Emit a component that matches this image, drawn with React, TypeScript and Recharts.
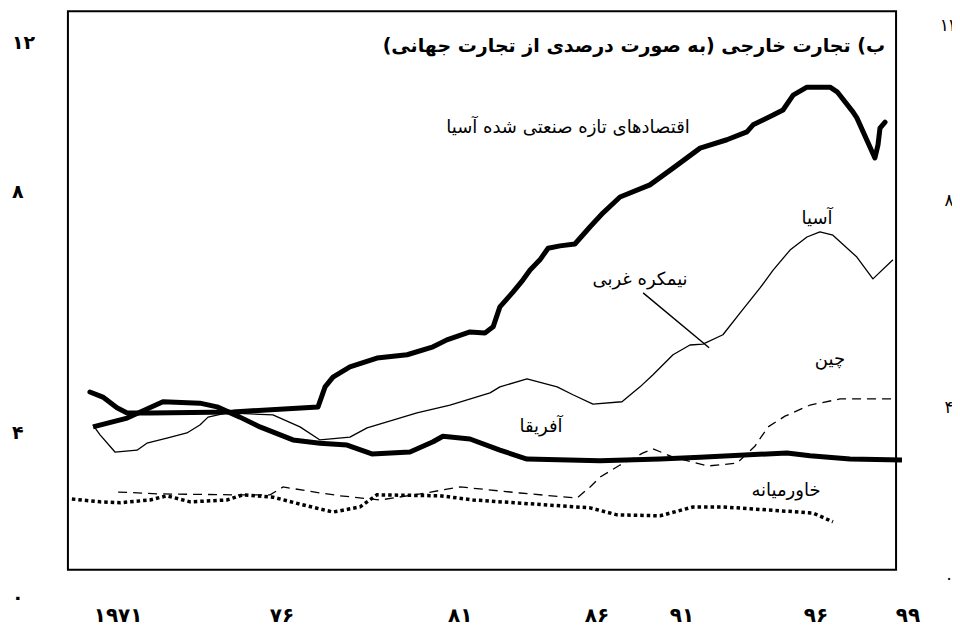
import {
  LineChart,
  Line,
  XAxis,
  YAxis,
  ReferenceArea,
  ReferenceLine,
} from "recharts";

// [year, share of world trade %]
const asianNIEs: [number, number][] = [
  [1969.99, 3.82], [1970.45, 3.71], [1970.95, 3.48], [1971.31, 3.37], [1972.12, 3.37],
  [1975.06, 3.39], [1978.08, 3.5], [1978.33, 3.93], [1978.61, 4.14], [1979.21, 4.36],
  [1980.17, 4.55], [1981.24, 4.62], [1982.16, 4.79], [1982.65, 4.94], [1983.47, 5.11],
  [1984.0, 5.09], [1984.29, 5.22], [1984.53, 5.65], [1985.0, 5.97], [1985.35, 6.23],
  [1985.6, 6.44], [1985.95, 6.66], [1986.24, 6.91], [1986.66, 6.96], [1987.19, 7.0],
  [1987.73, 7.37], [1988.19, 7.67], [1988.79, 8.01], [1989.85, 8.27], [1990.67, 8.63],
  [1991.63, 9.06], [1992.58, 9.24], [1993.29, 9.41], [1993.51, 9.56], [1994.22, 9.77],
  [1994.57, 9.88], [1994.93, 10.2], [1995.42, 10.37], [1996.24, 10.37], [1996.49, 10.27],
  [1997.05, 9.84], [1997.19, 9.71], [1997.83, 8.85], [1997.94, 9.13], [1998.01, 9.49],
  [1998.19, 9.62],
];

const africa: [number, number][] = [
  [1970.1, 3.07], [1971.31, 3.26], [1972.58, 3.61], [1973.89, 3.58], [1974.5, 3.5],
  [1975.31, 3.28], [1976.02, 3.07], [1977.19, 2.79], [1978.15, 2.72], [1979.11, 2.68],
  [1979.99, 2.49], [1981.34, 2.53], [1982.16, 2.75], [1982.51, 2.87], [1983.47, 2.81],
  [1984.53, 2.57], [1985.49, 2.38], [1988.08, 2.34], [1990.21, 2.38], [1991.63, 2.42],
  [1994.71, 2.51], [1995.53, 2.45], [1996.95, 2.38], [1998.79, 2.36],
];

const asia: [number, number][] = [
  [1970.1, 3.11], [1970.35, 2.9], [1970.88, 2.53], [1971.66, 2.57], [1972.01, 2.72],
  [1972.72, 2.83], [1973.43, 2.94], [1973.89, 3.11], [1974.18, 3.28], [1974.85, 3.37],
  [1976.48, 3.33], [1977.44, 3.07], [1978.15, 2.79], [1979.21, 2.85], [1979.82, 3.05],
  [1981.59, 3.37], [1982.76, 3.54], [1984.18, 3.8], [1984.53, 3.93], [1985.49, 4.1],
  [1986.56, 3.93], [1987.12, 3.76], [1987.83, 3.56], [1988.86, 3.61], [1989.5, 3.93],
  [1989.96, 4.19], [1990.67, 4.62], [1991.27, 4.83], [1991.73, 4.85], [1992.44, 5.05],
  [1993.05, 5.52], [1993.75, 6.05], [1994.22, 6.44], [1994.82, 6.87], [1995.42, 7.15],
  [1995.88, 7.26], [1996.34, 7.19], [1997.19, 6.72], [1997.76, 6.25], [1998.47, 6.66],
];

const china: [number, number][] = [
  [1970.99, 1.67], [1972.48, 1.63], [1975.06, 1.61], [1976.38, 1.61], [1976.84, 1.78],
  [1978.15, 1.65], [1978.86, 1.59], [1980.28, 1.5], [1981.7, 1.63], [1983.12, 1.78],
  [1985.24, 1.65], [1987.26, 1.54], [1987.73, 1.78], [1988.08, 1.99], [1988.79, 2.25],
  [1989.61, 2.51], [1989.96, 2.6], [1990.67, 2.42], [1991.91, 2.23], [1992.94, 2.29],
  [1993.58, 2.66], [1994.04, 3.07], [1994.64, 3.3], [1995.53, 3.54], [1996.59, 3.67],
  [1998.61, 3.67],
];

const middleEast: [number, number][] = [
  [1969.35, 1.52], [1970.35, 1.46], [1971.06, 1.44], [1972.12, 1.5], [1972.72, 1.59],
  [1973.54, 1.46], [1974.85, 1.5], [1975.42, 1.61], [1976.48, 1.56], [1977.44, 1.41],
  [1978.61, 1.24], [1979.57, 1.35], [1980.17, 1.61], [1982.41, 1.59], [1983.58, 1.5],
  [1987.73, 1.33], [1988.68, 1.18], [1990.21, 1.16], [1991.38, 1.35], [1992.44, 1.35],
  [1995.63, 1.22], [1996.34, 1.03],
];

// tick labels, placed where the printed labels sit
const xTickPos = [1970.99, 1976.8, 1983.12, 1987.97, 1990.99, 1995.74, 1999.0];
const xTickLabels = ["۱۹۷۱", "۷۶", "۸۱", "۸۶", "۹۱", "۹۶", "۹۹"];
const leftTickPos = [11.34, 8.14, 2.96, -0.59];
const rightTickPos = [11.71, 7.94, 3.5, -0.18];
const yTickLabels = ["۱۲", "۸", "۴", "۰"];

const FONT = "'DejaVu Sans', sans-serif";

const toRows = (pts: [number, number][]) => pts.map(([x, v]) => ({ x, v }));

const labels = [
  { text: "اقتصادهای تازه صنعتی شده آسیا", x: 568, y: 126 },
  { text: "آسیا", x: 817, y: 217 },
  { text: "نیمکره غربی", x: 640, y: 278 },
  { text: "چین", x: 830, y: 358 },
  { text: "آفریقا", x: 541, y: 425 },
  { text: "خاورمیانه", x: 786, y: 489 },
];

export default function App() {
  return (
    <div
      style={{
        position: "relative",
        width: 960,
        height: 631,
        margin: -8,
        background: "#fff",
        overflow: "hidden",
      }}
    >
      <LineChart width={960} height={631} margin={{ top: 2, right: 0, bottom: 0, left: 0 }}>
        <XAxis
          type="number"
          dataKey="x"
          domain={[1969, 1999.5]}
          ticks={xTickPos}
          interval={0}
          tickFormatter={(v) => xTickLabels[xTickPos.indexOf(v)] ?? ""}
          height={24}
          axisLine={false}
          tickLine={false}
          tickSize={0}
          tickMargin={1}
          tick={{ fontFamily: FONT, fontSize: 20, fontWeight: "bold", fill: "#000" }}
        />
        <YAxis
          yAxisId="l"
          orientation="left"
          width={62}
          domain={[-0.8, 12.2]}
          ticks={leftTickPos}
          interval={0}
          tickFormatter={(v) => yTickLabels[leftTickPos.indexOf(v)] ?? ""}
          axisLine={false}
          tickLine={false}
          tickSize={0}
          tickMargin={50}
          tick={{ fontFamily: FONT, fontSize: 19, fontWeight: "bold", fill: "#000", textAnchor: "start" }}
        />
        <YAxis
          yAxisId="r"
          orientation="right"
          width={38}
          domain={[-0.8, 12.2]}
          ticks={rightTickPos}
          interval={0}
          tickFormatter={(v) => yTickLabels[rightTickPos.indexOf(v)] ?? ""}
          axisLine={false}
          tickLine={false}
          tickSize={0}
          tickMargin={27}
          tick={{ fontFamily: FONT, fontSize: 17, fill: "#000", textAnchor: "middle" }}
        />
        <ReferenceArea
          yAxisId="l"
          x1={1969.21}
          x2={1998.58}
          y1={0}
          y2={12}
          stroke="#000"
          strokeWidth={2}
          fill="none"
          fillOpacity={0}
        />
        <ReferenceLine
          yAxisId="l"
          segment={[
            { x: 1989.61, y: 5.95 },
            { x: 1991.95, y: 4.77 },
          ]}
          stroke="#000"
          strokeWidth={1.4}
        />
        <Line
          yAxisId="l"
          data={toRows(middleEast)}
          dataKey="v"
          type="linear"
          stroke="#000"
          strokeWidth={3.5}
          strokeDasharray="3.5 3"
          dot={false}
          activeDot={false}
          isAnimationActive={false}
        />
        <Line
          yAxisId="r"
          data={toRows(china)}
          dataKey="v"
          type="linear"
          stroke="#000"
          strokeWidth={1.3}
          strokeDasharray="9 6"
          dot={false}
          activeDot={false}
          isAnimationActive={false}
        />
        <Line
          yAxisId="l"
          data={toRows(asia)}
          dataKey="v"
          type="linear"
          stroke="#000"
          strokeWidth={1.3}
          strokeLinejoin="round"
          dot={false}
          activeDot={false}
          isAnimationActive={false}
        />
        <Line
          yAxisId="l"
          data={toRows(africa)}
          dataKey="v"
          type="linear"
          stroke="#000"
          strokeWidth={5}
          strokeLinejoin="round"
          dot={false}
          activeDot={false}
          isAnimationActive={false}
        />
        <Line
          yAxisId="l"
          data={toRows(asianNIEs)}
          dataKey="v"
          type="linear"
          stroke="#000"
          strokeWidth={5}
          strokeLinejoin="round"
          strokeLinecap="round"
          dot={false}
          activeDot={false}
          isAnimationActive={false}
        />
      </LineChart>

      <div
        dir="rtl"
        style={{
          position: "absolute",
          right: 75,
          top: 45,
          transform: "translateY(-50%)",
          fontFamily: FONT,
          fontWeight: "bold",
          fontSize: 19,
          whiteSpace: "nowrap",
          color: "#000",
        }}
      >
        ب) تجارت خارجی (به صورت درصدی از تجارت جهانی)
      </div>

      {labels.map((l) => (
        <div
          key={l.text}
          dir="rtl"
          style={{
            position: "absolute",
            left: l.x,
            top: l.y,
            transform: "translate(-50%, -50%)",
            fontFamily: FONT,
            fontSize: 18,
            whiteSpace: "nowrap",
            color: "#000",
          }}
        >
          {l.text}
        </div>
      ))}
    </div>
  );
}
